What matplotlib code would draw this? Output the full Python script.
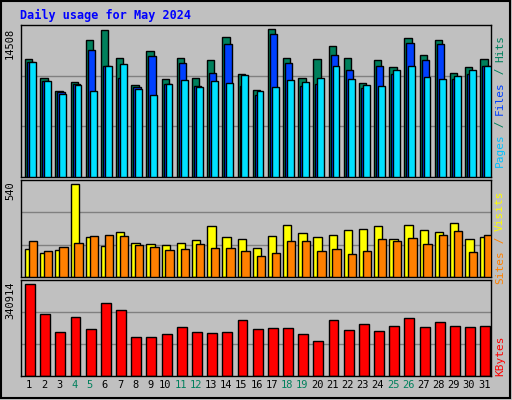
import matplotlib
matplotlib.use("Agg")
import matplotlib.pyplot as plt
import numpy as np
from matplotlib.patches import Rectangle

days = list(range(1, 32))
weekend = [4, 5, 11, 12, 18, 19, 25, 26]
hits = [11580, 9710, 8460, 9320, 13450, 14440, 11680, 9060, 12330, 9610, 11680, 9710, 11480, 13710, 10070, 8560, 14508, 11680, 9710, 11580, 12830, 11680, 9180, 11480, 10760, 13650, 11940, 13450, 10170, 10760, 11580]
files = [11280, 9420, 8330, 9120, 12430, 10860, 9710, 8790, 11840, 9120, 11150, 8920, 10170, 13020, 8920, 8010, 14020, 11150, 8920, 9120, 11940, 10460, 8690, 10860, 10070, 13120, 11450, 13020, 9610, 10070, 10860]
pages = [11280, 9420, 8100, 9020, 8400, 10860, 11050, 8590, 7990, 9120, 9480, 8790, 9420, 9220, 9970, 8400, 8790, 9480, 9320, 9710, 10860, 9580, 9020, 8920, 10460, 10860, 9780, 9580, 9870, 10460, 10860]
visits = [160, 137, 154, 540, 230, 178, 260, 195, 189, 183, 195, 213, 295, 230, 218, 166, 236, 300, 254, 230, 242, 271, 277, 295, 218, 300, 271, 260, 312, 218, 230]
sites = [207, 148, 172, 195, 236, 242, 236, 183, 172, 154, 160, 189, 166, 166, 148, 119, 137, 207, 207, 148, 160, 131, 148, 218, 207, 224, 189, 242, 265, 142, 242]
kbytes = [340914, 228950, 161770, 217750, 172970, 270000, 243870, 143100, 143100, 154290, 180430, 161770, 158030, 161770, 206550, 172970, 176700, 176700, 154290, 128170, 206550, 169230, 191620, 165500, 184160, 213990, 180430, 199090, 184160, 180430, 184160]

BG = "#C0C0C0"
fig = plt.figure(figsize=(5.12, 4.0), dpi=100, facecolor=BG)
W, H = 512, 400
def ax_at(x0, y0, x1, y1):
    return fig.add_axes([x0 / W, 1 - y1 / H, (x1 - x0) / W, (y1 - y0) / H])

mono = "DejaVu Sans Mono"
x = np.array(days)

def style(ax, ymax, label):
    ax.set_facecolor(BG)
    ax.set_xlim(0.5, 31.5)
    ax.set_ylim(0, ymax)
    for f in (1/3, 2/3):
        ax.axhline(ymax * f, color="#808080", lw=1, zorder=0)
    ax.set_xticks([]); ax.set_yticks([])
    for s in ax.spines.values():
        s.set_color("black"); s.set_linewidth(1)
    ax.text(-0.022, 0.985, label, transform=ax.transAxes, rotation=90, ha="center", va="top",
            fontsize=7.5, family=mono, color="black")

ax1 = ax_at(20.5, 25, 491, 177)
m1 = max(hits) * 152 / 148
style(ax1, m1, str(max(hits)))
ax1.bar(x - 0.2, hits, width=0.48, align="edge", color="#00805C", edgecolor="black", lw=1, zorder=2)
ax1.bar(x - 0.07, files, width=0.48, align="edge", color="#0040FF", edgecolor="black", lw=1, zorder=3)
ax1.bar(x + 0.06, pages, width=0.45, align="edge", color="#00E0FF", edgecolor="black", lw=1, zorder=4)

ax2 = ax_at(20.5, 180, 491, 277)
m2 = max(visits) * 96 / 92.5
style(ax2, m2, str(max(visits)))
ax2.bar(x - 0.2, visits, width=0.55, align="edge", color="#FFFF00", edgecolor="black", lw=1, zorder=2)
ax2.bar(x + 0.05, sites, width=0.55, align="edge", color="#FF8000", edgecolor="black", lw=1, zorder=3)

ax3 = ax_at(20.5, 280, 491, 376)
m3 = max(kbytes) * 95 / 91.3
style(ax3, m3, str(max(kbytes)))
ax3.bar(x - 0.2, kbytes, width=0.65, align="edge", color="#FF0000", edgecolor="black", lw=1, zorder=2)

for d in days:
    ax3.text(d + 0.05, -0.09, str(d), transform=ax3.get_xaxis_transform(), ha="center", va="center",
             fontsize=7.5, family=mono, color="#00805C" if d in weekend else "black")

fig.text(20 / W, 1 - 15 / H, "Daily usage for May 2024", color="#0000FF", fontsize=8.5,
         family=mono, fontweight="bold", va="center", ha="left")

def rlabel(y_center, parts):
    total = "".join(p for p, _ in parts)
    cw = 6.6
    yy = y_center + len(total) * cw / 2
    for txt, col in parts:
        L = len(txt) * cw
        fig.text(500 / W, 1 - (yy - L / 2) / H, txt, rotation=90, color=col, fontsize=8,
                 family=mono, ha="center", va="center")
        yy -= L
rlabel(101, [("Pages", "#00C0FF"), (" / ", "#00805C"), ("Files", "#0040FF"), (" / ", "#00805C"), ("Hits", "#00805C")])
rlabel(237, [("Sites", "#FF8000"), (" / ", "#FF8000"), ("Visits", "#FFFF00")])
rlabel(356, [("KBytes", "#FF0000")])

fig.patches.append(Rectangle((0.002, 0.004), 0.994, 0.994, transform=fig.transFigure, fill=False,
                             edgecolor="black", lw=1.5))
fig.savefig("out.png", dpi=100, facecolor=BG)
